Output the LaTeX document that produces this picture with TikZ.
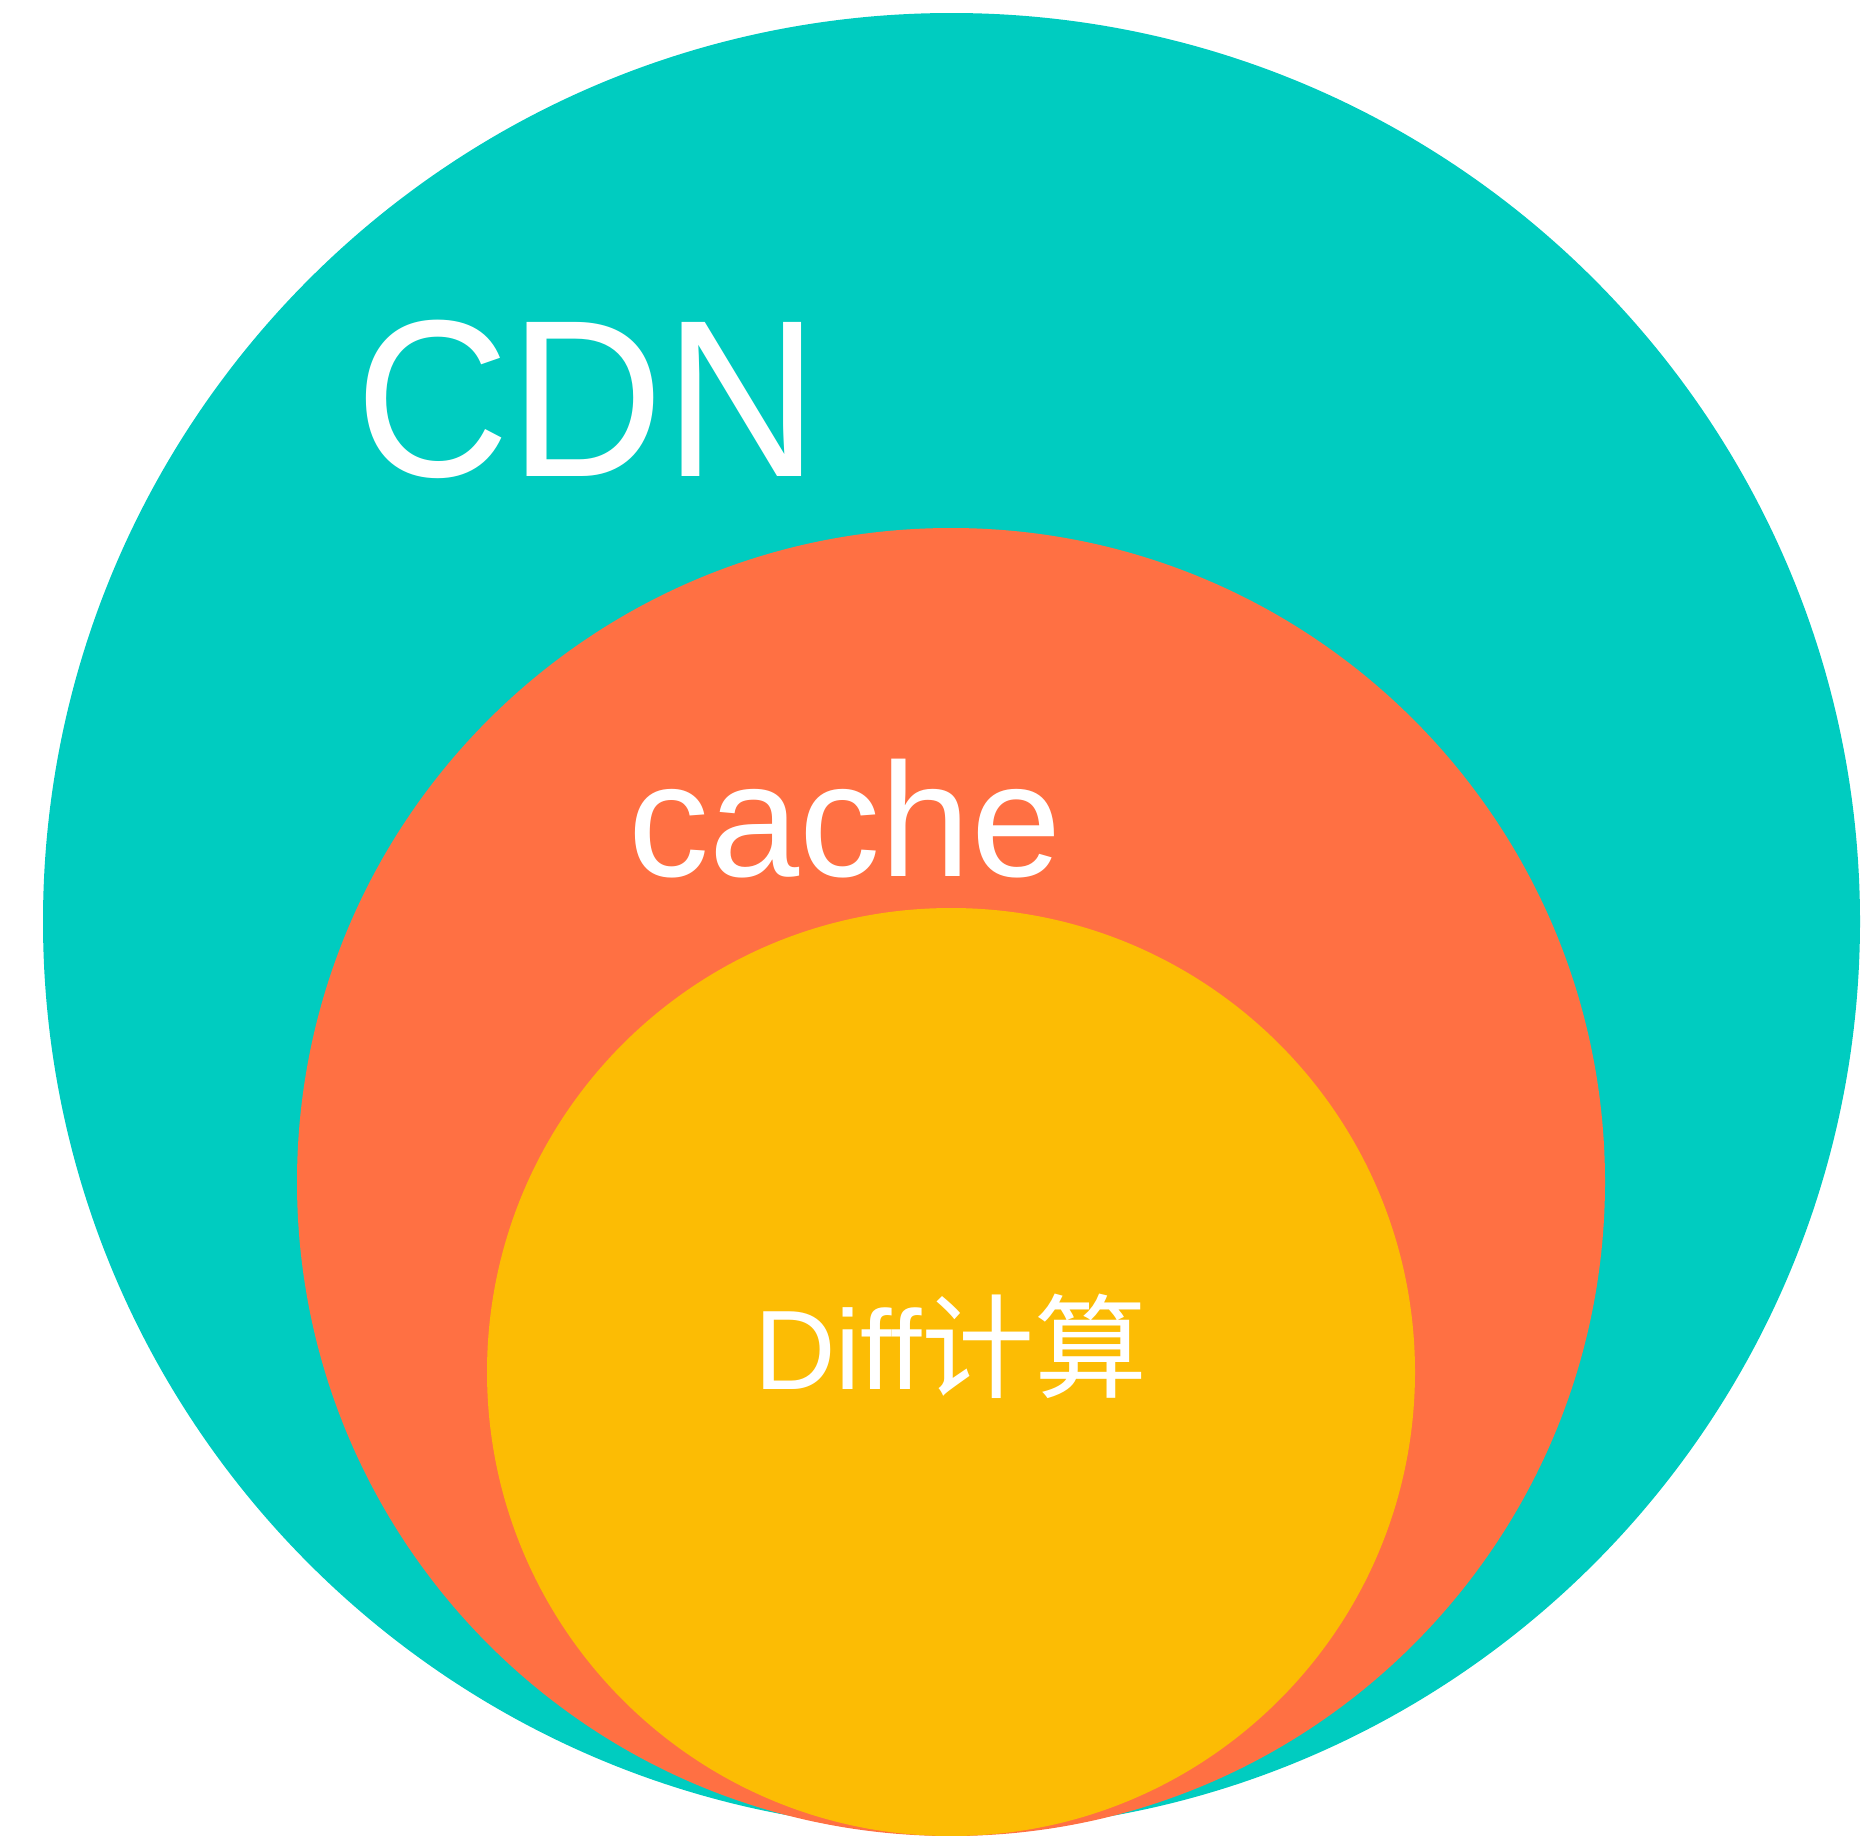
\documentclass[tikz,border=0pt]{standalone}
\usepackage{fontspec}
\setmainfont{Liberation Sans}
\newfontfamily\cjk{Noto Sans CJK SC}
\definecolor{cdnteal}{RGB}{0,204,192}
\definecolor{cacheorange}{RGB}{255,112,67}
\definecolor{diffyellow}{RGB}{252,188,4}
\tikzset{
  label text/.style={text=white, inner sep=0pt, anchor=base},
}
\begin{document}
\begin{tikzpicture}[x=0.5pt, y=-0.5pt]
  % canvas
  \useasboundingbox (0,0) rectangle (1869,1836);
  % nested layers
  \fill[cdnteal] (951.5,921.5) circle[radius=454.25pt];
  \fill[cacheorange] (951,1182) circle[radius=327pt];
  \fill[diffyellow] (951,1372) circle[radius=232pt];
  % layer labels
  \node[label text, font=\fontsize{112pt}{124pt}\selectfont] (cdn) at (587,476) {\scalebox{0.955}[1]{CDN}};
  \node[label text, font=\fontsize{81pt}{90pt}\selectfont] (cache) at (845,876) {cache};
  \node[label text, font=\fontsize{56.5pt}{64pt}\selectfont] (diff) at (951,1389) {Diff{\cjk 计算}};
\end{tikzpicture}
\end{document}
